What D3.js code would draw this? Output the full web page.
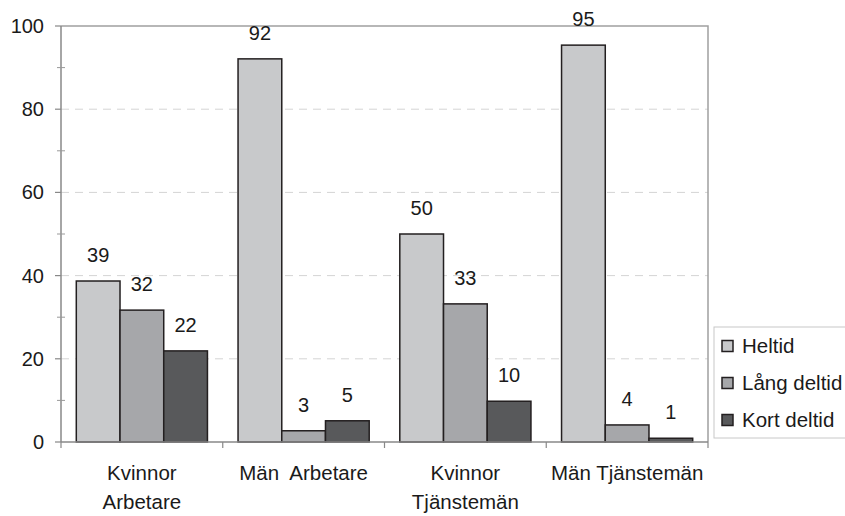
<!DOCTYPE html>
<html>
<head>
<meta charset="utf-8">
<script src="https://cdn.jsdelivr.net/npm/d3@7"></script>
<style>
  body { margin: 0; background: #fff; }
  svg { display: block; font-family: "Liberation Sans", Arial, sans-serif; }
</style>
</head>
<body>
<svg id="chart"></svg>
<script>
// categories (each entry = label lines) and series
const categories = [["Kvinnor", "Arbetare"], ["Män  Arbetare"], ["Kvinnor", "Tjänstemän"], ["Män Tjänstemän"]];
const seriesNames = ["Heltid", "Lång deltid", "Kort deltid"];
const heltid = [38.7, 92.1, 50.0, 95.4];
const langDeltid = [31.7, 2.7, 33.2, 4.1];
const kortDeltid = [21.9, 5.1, 9.8, 0.9];
const yTicks = [0, 20, 40, 60, 80, 100];
const yMinorTicks = [10, 30, 50, 70, 90];

const colors = ["#c8c9cb", "#a6a7aa", "#58595b"];
const seriesValues = [heltid, langDeltid, kortDeltid];

const width = 845, height = 516;
const margin = {top: 26, right: 137, bottom: 74, left: 61};

const svg = d3.select("#chart")
  .attr("width", width)
  .attr("height", height)
  .attr("viewBox", [0, 0, width, height]);

const x0 = d3.scaleBand()
  .domain(d3.range(categories.length))
  .range([margin.left, width - margin.right])
  .paddingInner(0).paddingOuter(0);

const x1 = d3.scaleBand()
  .domain(d3.range(seriesNames.length))
  .range([0, x0.bandwidth()])
  .paddingInner(0).paddingOuter(0.35);

const y = d3.scaleLinear()
  .domain([0, 100])
  .range([height - margin.bottom, margin.top]);

// gridlines
svg.append("g")
  .selectAll("line")
  .data(yTicks.filter(d => d > 0 && d < 100))
  .enter().append("line")
    .attr("x1", margin.left)
    .attr("x2", width - margin.right)
    .attr("y1", d => y(d))
    .attr("y2", d => y(d))
    .attr("stroke", "#d4d4d4")
    .attr("stroke-width", 1)
    .attr("stroke-dasharray", "8,6");

// plot border (top and right)
svg.append("path")
  .attr("d", `M${margin.left},${margin.top}H${width - margin.right}V${height - margin.bottom}`)
  .attr("fill", "none")
  .attr("stroke", "#a0a0a0")
  .attr("stroke-width", 1.5);

// bars
const groups = svg.append("g")
  .selectAll("g")
  .data(categories)
  .enter().append("g")
    .attr("transform", (d, i) => `translate(${x0(i)},0)`);

groups.selectAll("rect")
  .data((d, i) => seriesValues.map((vals, s) => ({s, v: vals[i]})))
  .enter().append("rect")
    .attr("x", d => x1(d.s))
    .attr("y", d => y(d.v))
    .attr("width", x1.bandwidth())
    .attr("height", d => y(0) - y(d.v))
    .attr("fill", d => colors[d.s])
    .attr("stroke", "#231f20")
    .attr("stroke-width", 1.5);

groups.selectAll("text.val")
  .data((d, i) => seriesValues.map((vals, s) => ({s, v: vals[i]})))
  .enter().append("text")
    .attr("class", "val")
    .attr("x", d => x1(d.s) + x1.bandwidth() / 2)
    .attr("y", d => y(d.v) - 19)
    .attr("text-anchor", "middle")
    .attr("font-size", 20)
    .attr("fill", "#1a1a1a")
    .text(d => d3.format(".0f")(d.v));

// y axis
const yAxis = svg.append("g");
yAxis.append("line")
  .attr("x1", margin.left).attr("x2", margin.left)
  .attr("y1", margin.top).attr("y2", y(0))
  .attr("stroke", "#888").attr("stroke-width", 1.5);
yAxis.selectAll("line.major")
  .data(yTicks)
  .enter().append("line")
    .attr("class", "major")
    .attr("x1", margin.left - 6).attr("x2", margin.left)
    .attr("y1", d => y(d)).attr("y2", d => y(d))
    .attr("stroke", "#888").attr("stroke-width", 1.2);
yAxis.selectAll("line.minor")
  .data(yMinorTicks)
  .enter().append("line")
    .attr("class", "minor")
    .attr("x1", margin.left - 4).attr("x2", margin.left + 4)
    .attr("y1", d => y(d)).attr("y2", d => y(d))
    .attr("stroke", "#999").attr("stroke-width", 1);
yAxis.selectAll("text")
  .data(yTicks)
  .enter().append("text")
    .attr("x", 44)
    .attr("y", d => y(d))
    .attr("dy", "0.35em")
    .attr("text-anchor", "end")
    .attr("font-size", 20)
    .attr("fill", "#1a1a1a")
    .text(d => d);

// x axis
const xAxis = svg.append("g");
xAxis.append("line")
  .attr("x1", margin.left).attr("x2", width - margin.right)
  .attr("y1", y(0)).attr("y2", y(0))
  .attr("stroke", "#888").attr("stroke-width", 1.5);
xAxis.selectAll("line.tick")
  .data(d3.range(categories.length + 1))
  .enter().append("line")
    .attr("class", "tick")
    .attr("x1", i => margin.left + i * x0.step())
    .attr("x2", i => margin.left + i * x0.step())
    .attr("y1", y(0)).attr("y2", y(0) + 6)
    .attr("stroke", "#888").attr("stroke-width", 1.2);
const xLabels = xAxis.selectAll("text")
  .data(categories)
  .enter().append("text")
    .attr("x", (d, i) => x0(i) + x0.bandwidth() / 2)
    .attr("y", 480)
    .attr("text-anchor", "middle")
    .attr("font-size", 20.5)
    .attr("fill", "#1a1a1a")
    .style("white-space", "pre");
xLabels.selectAll("tspan")
  .data(d => d)
  .enter().append("tspan")
    .attr("x", function() { return this.parentNode.getAttribute("x"); })
    .attr("dy", (d, i) => i === 0 ? 0 : 29)
    .text(d => d);

// legend
const legend = svg.append("g");
legend.append("rect")
  .attr("x", 714).attr("y", 327)
  .attr("width", 140).attr("height", 111)
  .attr("fill", "#fff")
  .attr("stroke", "#c8c8c8").attr("stroke-width", 1);
const items = legend.selectAll("g")
  .data(seriesNames)
  .enter().append("g")
    .attr("transform", (d, i) => `translate(722,${346 + i * 37})`);
items.append("rect")
  .attr("x", 0).attr("y", -5.5)
  .attr("width", 11).attr("height", 11)
  .attr("fill", (d, i) => colors[i])
  .attr("stroke", "#231f20").attr("stroke-width", 1.5);
items.append("text")
  .attr("x", 20)
  .attr("dy", "0.35em")
  .attr("font-size", 20.5)
  .attr("fill", "#1a1a1a")
  .text(d => d);
</script>
</body>
</html>
